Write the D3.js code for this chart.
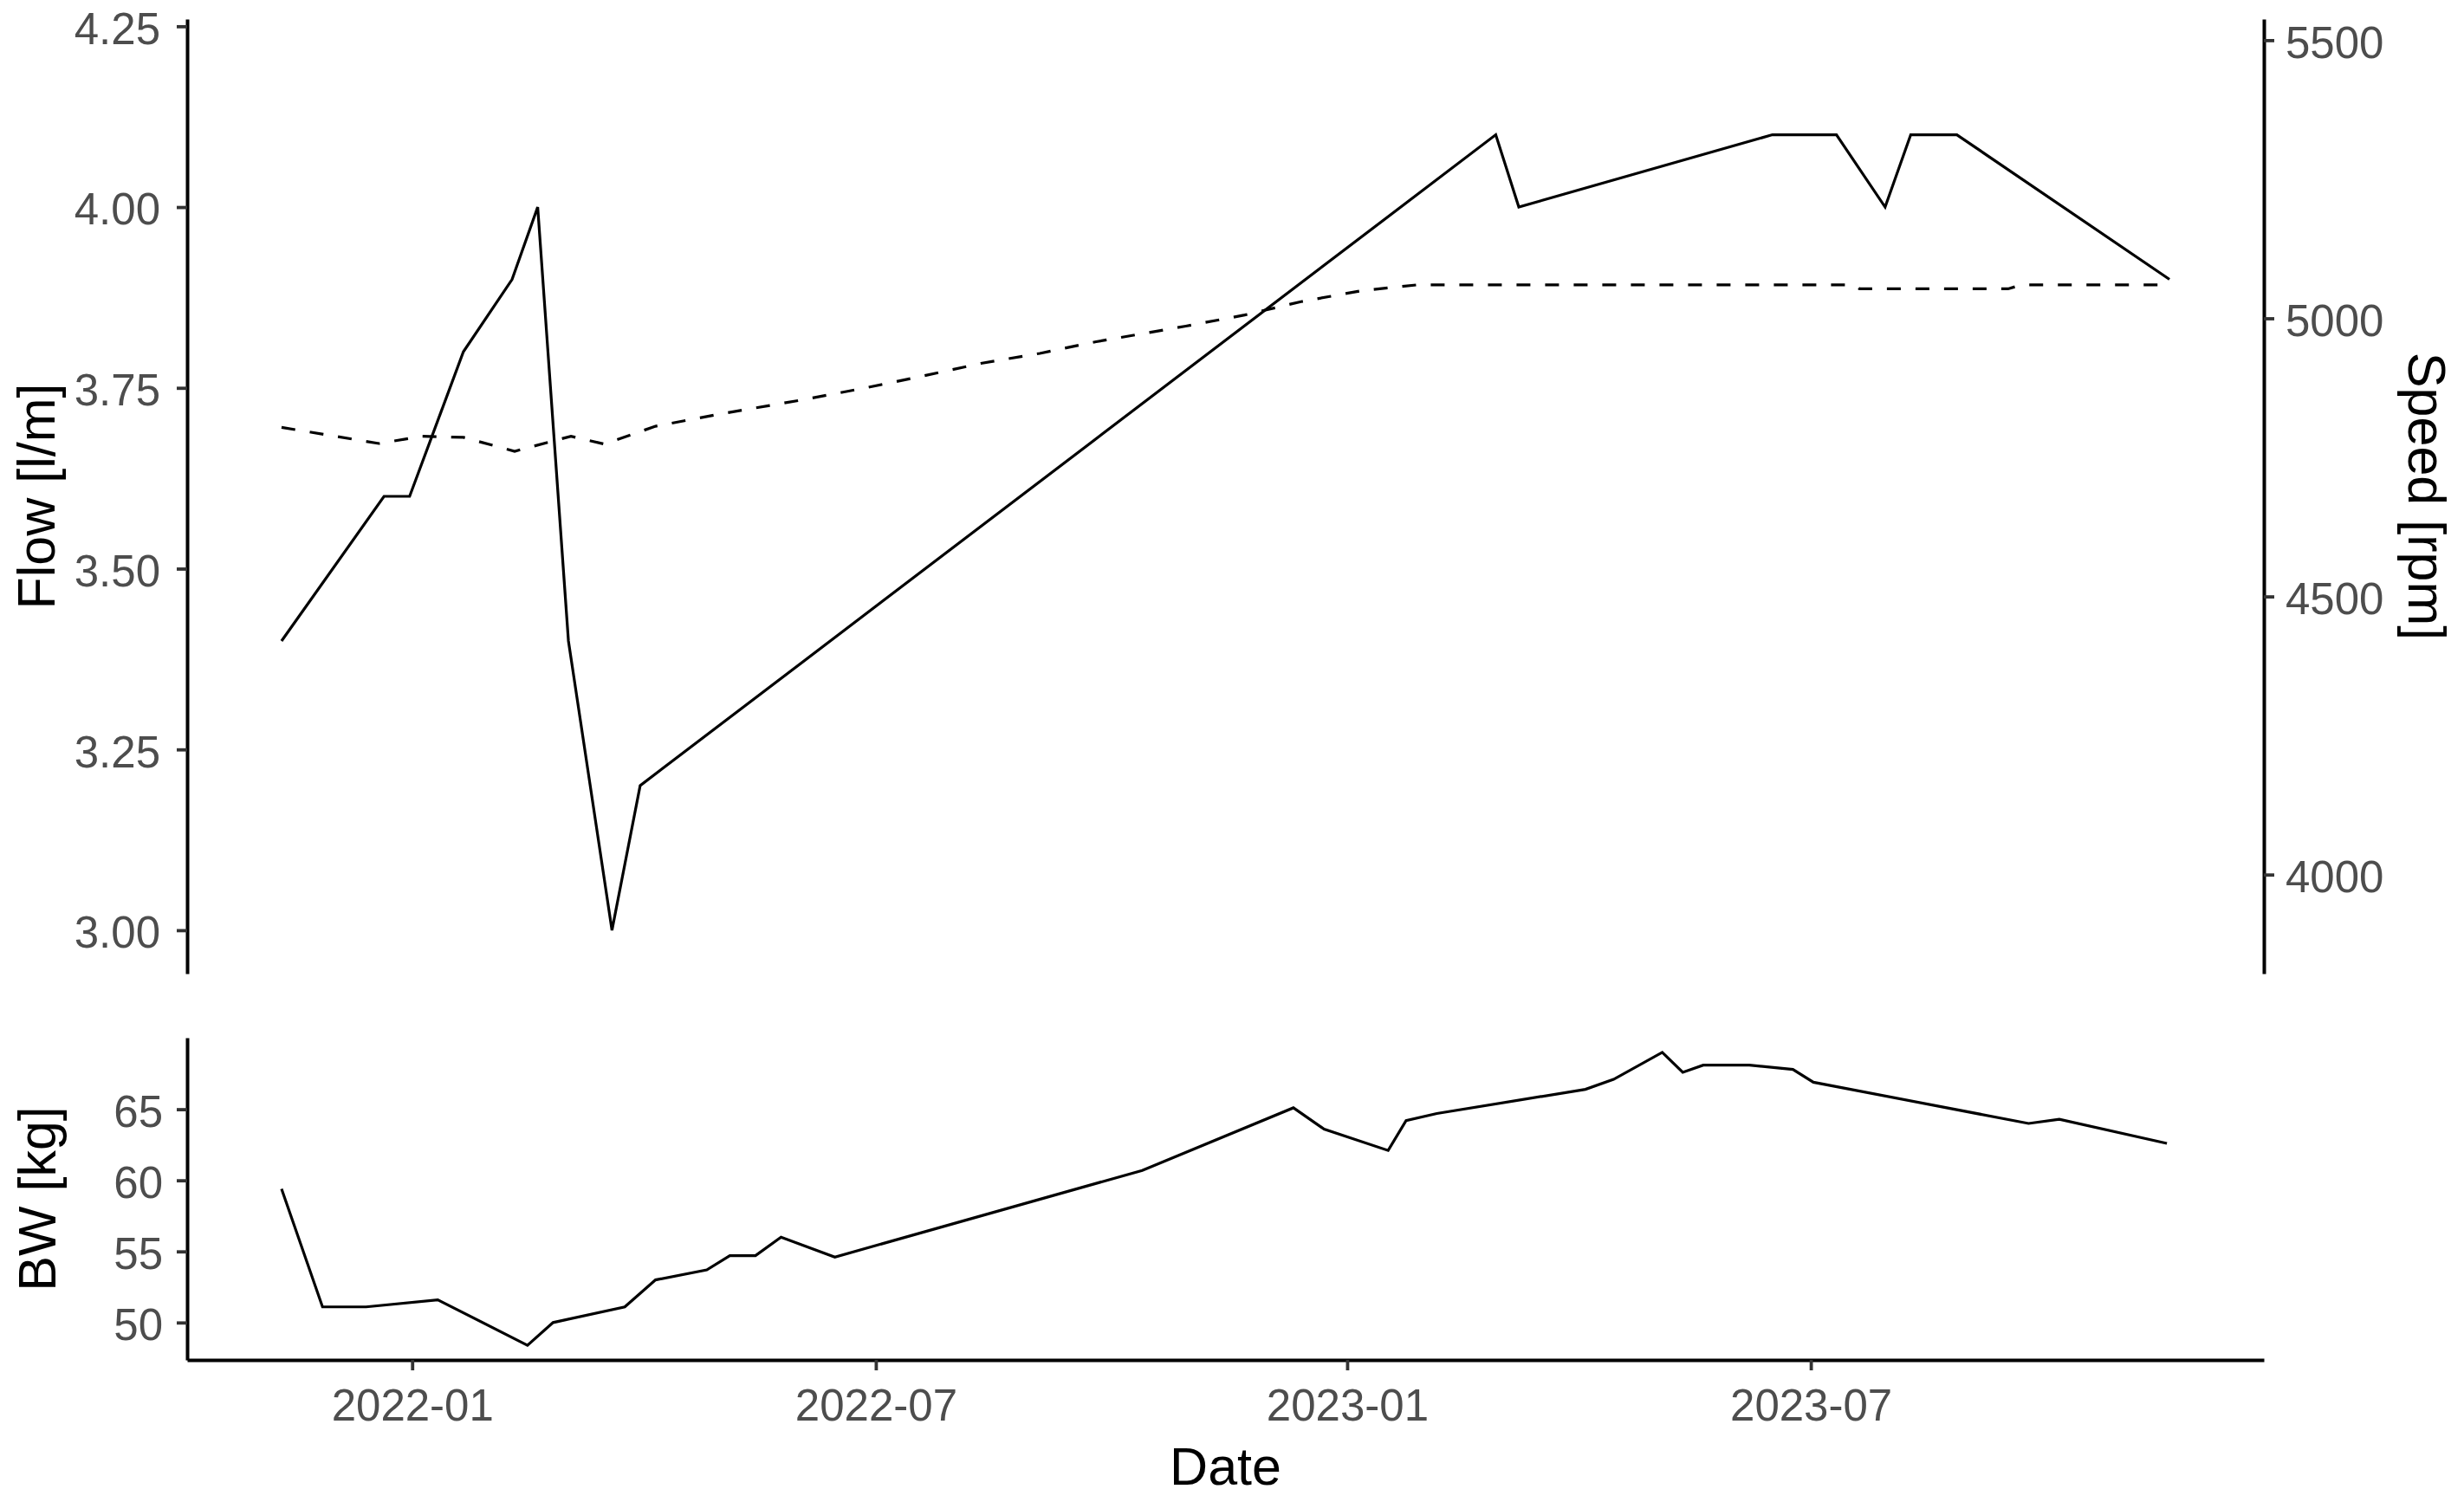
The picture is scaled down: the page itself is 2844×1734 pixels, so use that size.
<!DOCTYPE html>
<html>
<head>
<meta charset="utf-8">
<script src="https://cdn.jsdelivr.net/npm/d3@7"></script>
<style>
  html, body { margin: 0; padding: 0; background: #ffffff; }
  svg { display: block; }
</style>
</head>
<body>
<svg id="chart" width="2844" height="1734"></svg>
<script>
// ---------------- data ----------------
const flowDates = ['2021-11-11','2021-12-21','2021-12-31','2022-01-21','2022-02-09','2022-02-19',
  '2022-03-03','2022-03-20','2022-03-31','2023-02-28','2023-03-09','2023-06-16','2023-07-11',
  '2023-07-30','2023-08-09','2023-08-27','2023-11-18'];
const flowValues = [3.4, 3.6, 3.6, 3.8, 3.9, 4.0, 3.4, 3.0, 3.2, 4.1, 4.0, 4.1, 4.1, 4.0, 4.1, 4.1, 3.9];

const speedDates = ['2021-11-11','2021-12-19','2022-01-05','2022-01-21','2022-02-10','2022-03-04',
  '2022-03-17','2022-04-06','2022-04-30','2022-06-03','2022-06-27','2022-07-19','2022-08-11',
  '2022-09-03','2022-09-25','2022-10-30','2022-11-22','2022-12-14','2023-01-07','2023-01-28',
  '2023-07-18','2023-07-20','2023-09-16','2023-09-21','2023-11-18'];
const speedValues = [4804, 4775, 4788, 4786, 4761, 4788, 4774, 4806, 4827, 4854, 4875, 4896, 4919,
  4937, 4958, 4986, 5006, 5030, 5050, 5060, 5060, 5053, 5053, 5060, 5060];

const bwDates = ['2021-11-11','2021-11-27','2021-12-14','2022-01-11','2022-02-15','2022-02-25',
  '2022-03-25','2022-04-06','2022-04-26','2022-05-05','2022-05-15','2022-05-25','2022-06-15',
  '2022-10-13','2022-12-11','2022-12-23','2023-01-17','2023-01-24','2023-02-05','2023-04-04',
  '2023-04-15','2023-05-04','2023-05-12','2023-05-20','2023-06-07','2023-06-24','2023-07-02',
  '2023-09-24','2023-10-06','2023-11-17'];
const bwValues = [59.4, 51.1, 51.1, 51.6, 48.4, 50.0, 51.1, 53.0, 53.7, 54.7, 54.7, 56.0, 54.6,
  60.7, 65.1, 63.6, 62.1, 64.2, 64.7, 66.4, 67.1, 69.0, 67.6, 68.1, 68.1, 67.8, 66.9,
  64.0, 64.3, 62.6];

const xTickLabels = ['2022-01','2022-07','2023-01','2023-07'];
const flowTicks = [3.00, 3.25, 3.50, 3.75, 4.00, 4.25];
const speedTicks = [4000, 4500, 5000, 5500];
const bwTicks = [50, 55, 60, 65];
const flowLimits = [3.0, 4.2];
const speedFactor = 1300;   // secondary axis: Speed = Flow * 1300

// ---------------- layout ----------------
const parse = d3.timeParse('%Y-%m-%d');
const parseMonth = d3.timeParse('%Y-%m');
const svg = d3.select('#chart');
const L = 216, R = 2613;
const topY = [22, 1124];
const botY = [1198, 1570];
const tickFont = 51, titleFont = 61;
const tickColor = '#4D4D4D';
const font = '"Liberation Sans", Arial, Helvetica, sans-serif';

function expand(ext, f) { const r = ext[1] - ext[0]; return [ext[0] - r * f, ext[1] + r * f]; }

const flowData = flowDates.map((d, i) => ({ date: parse(d), v: flowValues[i] }));
const speedData = speedDates.map((d, i) => ({ date: parse(d), v: speedValues[i] }));
const bwData = bwDates.map((d, i) => ({ date: parse(d), v: bwValues[i] }));

const allDates = [...flowData, ...speedData, ...bwData].map(d => +d.date);
const xExt = d3.extent(allDates);
const xDom = expand(xExt, 0.05).map(t => new Date(t));
const x = d3.scaleTime().domain(xDom).range([L, R]);

const yFlowDom = expand(flowLimits, 0.05);
const yFlow = d3.scaleLinear().domain(yFlowDom).range([topY[1], topY[0]]);
const ySpeed = d3.scaleLinear().domain(yFlowDom.map(v => v * speedFactor)).range([topY[1], topY[0]]);
const yBW = d3.scaleLinear().domain(expand(d3.extent(bwValues), 0.05)).range([botY[1], botY[0]]);

// ---------------- axes ----------------
function styleAxis(g) {
  g.select('.domain').attr('stroke', '#000').attr('stroke-width', 4);
  g.selectAll('.tick line').attr('stroke', '#333333').attr('stroke-width', 3.8);
  g.selectAll('.tick text').attr('fill', tickColor).attr('font-size', tickFont)
    .attr('font-family', font);
}

// top-left flow axis
const gFlow = svg.append('g').attr('transform', `translate(${L},0)`)
  .call(d3.axisLeft(yFlow).tickValues(flowTicks).tickFormat(d3.format('.2f'))
    .tickSize(12).tickSizeOuter(0).tickPadding(19));
styleAxis(gFlow);
gFlow.selectAll('.tick text').attr('dy', '0.39em');

// top-right speed axis
const gSpeed = svg.append('g').attr('transform', `translate(${R},0)`)
  .call(d3.axisRight(ySpeed).tickValues(speedTicks).tickFormat(d3.format('d'))
    .tickSize(12).tickSizeOuter(0).tickPadding(13));
styleAxis(gSpeed);
gSpeed.selectAll('.tick text').attr('dy', '0.39em');

// bottom-left BW axis
const gBW = svg.append('g').attr('transform', `translate(${L},0)`)
  .call(d3.axisLeft(yBW).tickValues(bwTicks).tickFormat(d3.format('d'))
    .tickSize(12).tickSizeOuter(0).tickPadding(16));
styleAxis(gBW);
gBW.selectAll('.tick text').attr('dy', '0.39em');

// bottom date axis
const gX = svg.append('g').attr('transform', `translate(0,${botY[1]})`)
  .call(d3.axisBottom(x).tickValues(xTickLabels.map(parseMonth)).tickFormat(d3.timeFormat('%Y-%m'))
    .tickSize(12).tickSizeOuter(0).tickPadding(22));
styleAxis(gX);

// ---------------- lines ----------------
const flowLine = d3.line().x(d => x(d.date)).y(d => yFlow(d.v));
const speedLine = d3.line().x(d => x(d.date)).y(d => ySpeed(d.v));
const bwLine = d3.line().x(d => x(d.date)).y(d => yBW(d.v));

svg.append('path').datum(speedData).attr('d', speedLine)
  .attr('fill', 'none').attr('stroke', '#000').attr('stroke-width', 3.2)
  .attr('stroke-dasharray', '16,17');
svg.append('path').datum(flowData).attr('d', flowLine)
  .attr('fill', 'none').attr('stroke', '#000').attr('stroke-width', 3.2)
  .attr('stroke-linejoin', 'miter');
svg.append('path').datum(bwData).attr('d', bwLine)
  .attr('fill', 'none').attr('stroke', '#000').attr('stroke-width', 3.2);

// ---------------- titles ----------------
function title(txt, tx, ty, rot) {
  svg.append('text').text(txt)
    .attr('transform', `translate(${tx},${ty}) rotate(${rot})`)
    .attr('text-anchor', 'middle').attr('font-size', titleFont)
    .attr('font-family', font).attr('fill', '#000');
}
title('Flow [l/m]', 63, (topY[0] + topY[1]) / 2, -90);
title('BW [kg]', 64, (botY[0] + botY[1]) / 2, -90);
title('Speed [rpm]', 2780, (topY[0] + topY[1]) / 2, 90);
title('Date', (L + R) / 2, 1714, 0);
</script>
</body>
</html>
